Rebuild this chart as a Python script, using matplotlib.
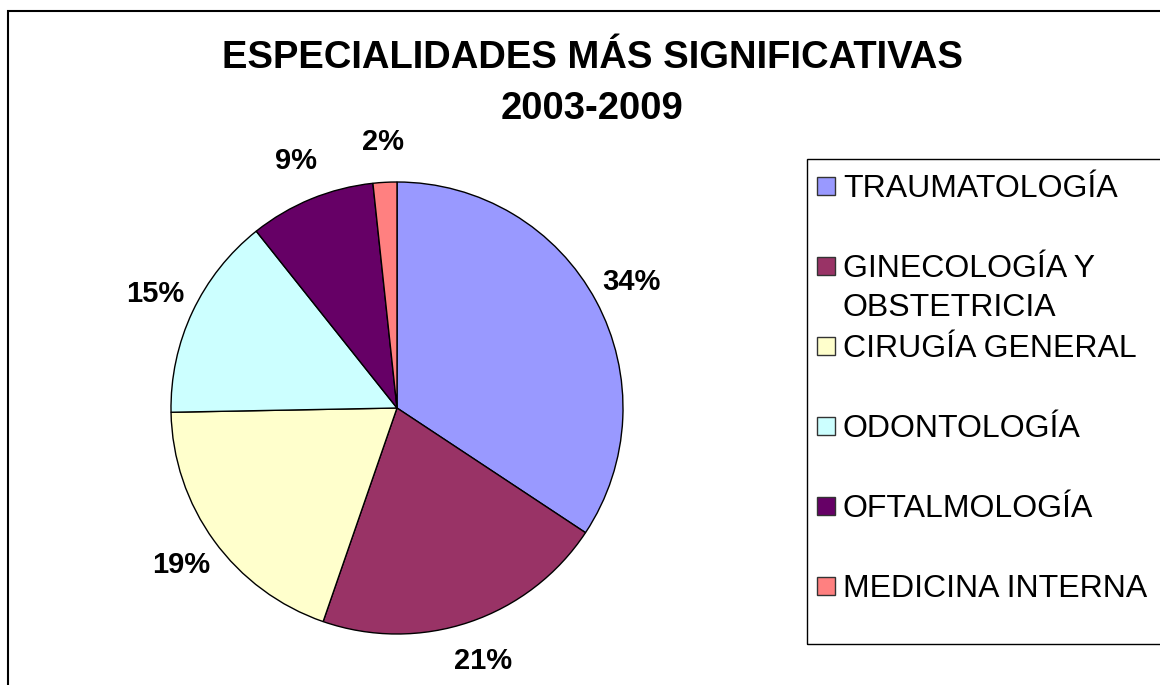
import matplotlib
matplotlib.use("Agg")
import matplotlib.pyplot as plt
from matplotlib.patches import Rectangle

plt.rcParams["font.family"] = ["Liberation Sans", "DejaVu Sans"]

especialidades = ["TRAUMATOLOGÍA", "GINECOLOGÍA Y\nOBSTETRICIA", "CIRUGÍA GENERAL",
                  "ODONTOLOGÍA", "OFTALMOLOGÍA", "MEDICINA INTERNA"]
porcentajes = [34.3, 21.0, 19.4, 14.6, 9.0, 1.7]
colores = ["#9999FF", "#993366", "#FFFFCC", "#CCFFFF", "#660066", "#FF8080"]

W, H = 1160, 685
fig = plt.figure(figsize = (W / 100, H / 100), dpi = 100)

def fx(px):
    return px / W

def fy(py):
    return 1 - py / H

# outer chart border (right / bottom edges fall outside the image)
fig.add_artist(Rectangle((fx(8), fy(700)), fx(1170), (700 - 11) / H, fill = False,
                         edgecolor = "black", lw = 1.5, transform = fig.transFigure))

# pie
cx, cy, r = 397, 408, 226
ax = fig.add_axes([fx(cx - r), fy(cy + r), 2 * r / W, 2 * r / H])
wedges, texts, autotexts = ax.pie(porcentajes, colors = colores, startangle = 90,
                                  counterclock = False, autopct = "%1.0f%%",
                                  pctdistance = 1.18, radius = 1,
                                  wedgeprops = {"edgecolor": "black", "linewidth": 1})
for t in autotexts:
    t.set_fontsize(21)
    t.set_fontweight("bold")
    t.set_clip_on(False)
ax.set_xlim(-1, 1)
ax.set_ylim(-1, 1)
ax.set_axis_off()

# title
fig.text(fx(592), fy(68), "ESPECIALIDADES MÁS SIGNIFICATIVAS", ha = "center", va = "baseline",
         fontsize = 27.5, fontweight = "bold")
fig.text(fx(592), fy(119), "2003-2009", ha = "center", va = "baseline",
         fontsize = 27.5, fontweight = "bold")

# legend box
fig.add_artist(Rectangle((fx(807), fy(644)), fx(400), (644 - 159) / H, fill = False,
                         edgecolor = "black", lw = 1, transform = fig.transFigure))
for i, (lab, col) in enumerate(zip(especialidades, colores)):
    ly = 186 + 80 * i
    fig.add_artist(Rectangle((fx(817), fy(ly + 9)), fx(18), 18 / H, facecolor = col,
                             edgecolor = "#333333", lw = 1, transform = fig.transFigure))
    for j, linea in enumerate(lab.split("\n")):
        fig.text(fx(843), fy(ly + 11 + 39 * j), linea, ha = "left", va = "baseline",
                 fontsize = 23)

fig.savefig("out.png", dpi = 100, facecolor = "w")
